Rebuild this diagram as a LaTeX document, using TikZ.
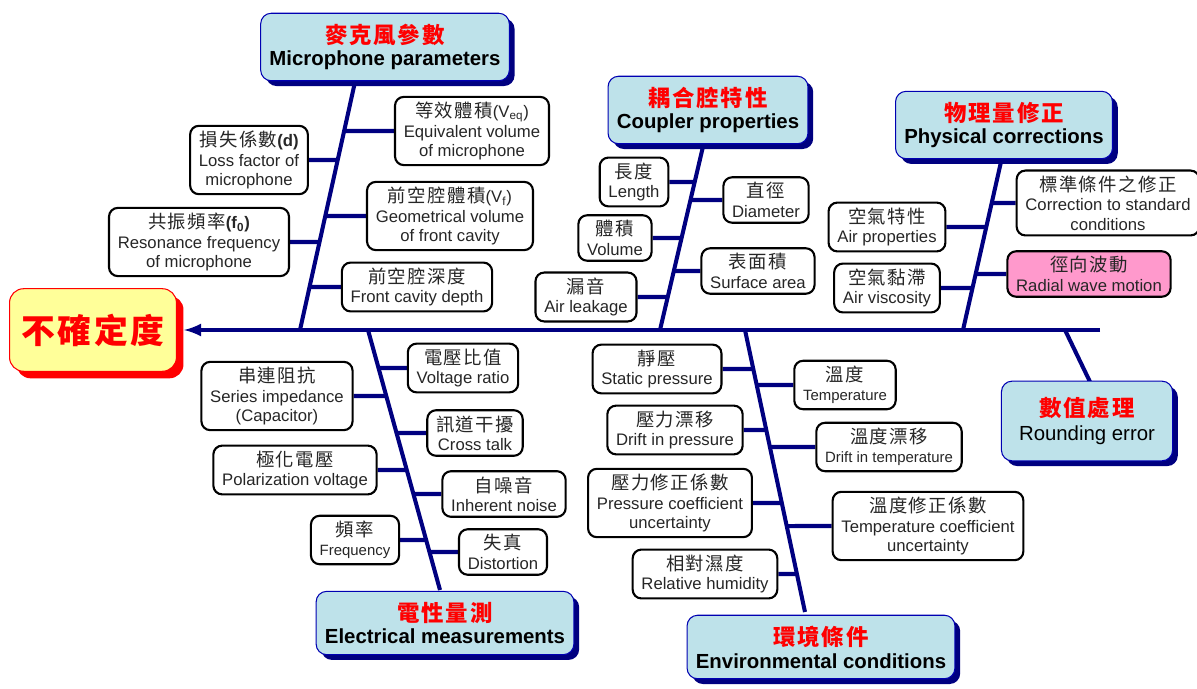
\documentclass[tikz,border=0pt]{standalone}
\usepackage{fontspec}
\setmainfont{Liberation Sans}
\newfontfamily\cjk[Scale=1.1,LetterSpace=8]{Noto Sans CJK TC}
\usetikzlibrary{shadows,backgrounds}
\definecolor{navy}{RGB}{0,0,128}
\definecolor{paleblue}{RGB}{190,226,234}
\definecolor{paleyellow}{RGB}{255,255,153}
\definecolor{pinkbox}{RGB}{255,153,204}

\begin{document}
\begin{tikzpicture}[x=0.02cm,y=-0.02cm,
  bone/.style={navy,line width=2.3pt},
  item/.style={draw=black,line width=1.2pt,fill=white,rounded corners=5pt,align=center,
    text=black!85,font=\fontsize{9.5}{11}\selectfont,inner xsep=5pt,inner ysep=3pt},
  cause/.style={draw=blue!70!black,line width=0.6pt,fill=paleblue,rounded corners=6pt,align=center,
    font=\fontsize{11.6}{13}\selectfont\bfseries,inner xsep=5pt,inner ysep=6pt,
    drop shadow={shadow xshift=3pt,shadow yshift=-3pt,fill=navy,opacity=1}},
  effect/.style={draw=red,line width=0.6pt,fill=paleyellow,rounded corners=8pt,text=red,
    font=\fontsize{17.5}{20}\selectfont\bfseries,minimum width=95pt,minimum height=47pt,
    drop shadow={shadow xshift=4pt,shadow yshift=-4pt,fill=red,opacity=1}}]
  \useasboundingbox (0,0) rectangle (1197,689);

  \node [effect] (head) at (93,330) {\cjk 不確定度};

  \node [cause] (mp) at (385,47) {\textcolor{red}{\cjk 麥克風參數}\\Microphone parameters};
  \node [cause] (cp) at (708,110) {\textcolor{red}{\cjk 耦合腔特性}\\Coupler properties};
  \node [cause] (pc) at (1004,125) {\textcolor{red}{\cjk 物理量修正}\\Physical corrections};
  \node [cause,font=\fontsize{11.6}{14}\selectfont,inner xsep=10pt,inner ysep=9pt] (re) at (1087,421) {\textcolor{red}{\bfseries\cjk 數值處理}\\Rounding error};
  \node [cause] (em) at (445,623) {\textcolor{red}{\cjk 電性量測}\\Electrical measurements};
  \node [cause] (ec) at (821,647) {\textcolor{red}{\cjk 環境條件}\\Environmental conditions};

  \node [item] (loss) at (249,160) {{\cjk 損失係數}{\bfseries(d)}\\Loss factor of\\microphone};
  \node [item] (reson) at (199,242) {{\cjk 共振頻率}{\bfseries(f\textsubscript{0})}\\Resonance frequency\\of microphone};
  \node [item] (equiv) at (472,131) {{\cjk 等效體積}(V\textsubscript{eq})\\Equivalent volume\\of microphone};
  \node [item] (geom) at (450,216) {{\cjk 前空腔體積}(V\textsubscript{f})\\Geometrical volume\\of front cavity};
  \node [item] (depth) at (417,287) {{\cjk 前空腔深度}\\Front cavity depth};

  \node [item] (len) at (634,182) {{\cjk 長度}\\Length};
  \node [item] (vol) at (615,238) {{\cjk 體積}\\Volume};
  \node [item] (leak) at (586,297) {{\cjk 漏音}\\Air leakage};
  \node [item] (dia) at (766,200) {{\cjk 直徑}\\Diameter};
  \node [item] (surf) at (758,271) {{\cjk 表面積}\\Surface area};

  \node [item] (airp) at (887,227) {{\cjk 空氣特性}\\Air properties};
  \node [item] (airv) at (887,288) {{\cjk 空氣黏滯}\\Air viscosity};
  \node [item] (std) at (1108,203) {{\cjk 標準條件之修正}\\Correction to standard\\conditions};
  \node [item,fill=pinkbox] (radial) at (1089,274) {{\cjk 徑向波動}\\Radial wave motion};

  \node [item] (ser) at (277,396) {{\cjk 串連阻抗}\\Series impedance\\(Capacitor)};
  \node [item] (pol) at (295,470) {{\cjk 極化電壓}\\Polarization voltage};
  \node [item] (freq) at (355,540) {{\cjk 頻率}\\{\fontsize{8.5}{10}\selectfont Frequency}};
  \node [item] (vr) at (463,368) {{\cjk 電壓比值}\\Voltage ratio};
  \node [item] (ct) at (475,433) {{\cjk 訊道干擾}\\Cross talk};
  \node [item] (noise) at (504,494) {{\cjk 自噪音}\\Inherent noise};
  \node [item] (dist) at (503,552) {{\cjk 失真}\\Distortion};

  \node [item] (stat) at (657,369) {{\cjk 靜壓}\\Static pressure};
  \node [item] (dp) at (675,430) {{\cjk 壓力漂移}\\Drift in pressure};
  \node [item] (pcu) at (670,503) {{\cjk 壓力修正係數}\\Pressure coefficient\\uncertainty};
  \node [item] (rh) at (705,574) {{\cjk 相對濕度}\\Relative humidity};
  \node [item] (temp) at (845,385) {{\cjk 溫度}\\{\fontsize{8.5}{10}\selectfont Temperature}};
  \node [item] (dt) at (889,447) {{\cjk 溫度漂移}\\{\fontsize{8.5}{10}\selectfont Drift in temperature}};
  \node [item] (tcu) at (928,526) {{\cjk 溫度修正係數}\\Temperature coefficient\\uncertainty};

  \coordinate (tail) at (1100,330);
  \coordinate (mtop) at (355,82);  \coordinate (mbot) at (300,330);
  \coordinate (ctop) at (705,138); \coordinate (cbot) at (660,330);
  \coordinate (ptop) at (1003,153); \coordinate (pbot) at (963,330);
  \coordinate (etop) at (368,330); \coordinate (ebot) at (440,590);
  \coordinate (ntop) at (745,330); \coordinate (nbot) at (805,612);
  \coordinate (rtop) at (1065,330); \coordinate (rbot) at (1092,386);

  \begin{scope}[on background layer]
  \draw [bone,-latex,shorten >=4pt] (tail) -- (head.east);
  \draw [bone] (mbot) -- (mtop);
  \draw [bone] (cbot) -- (ctop);
  \draw [bone] (pbot) -- (ptop);
  \draw [bone] (etop) -- (ebot);
  \draw [bone] (ntop) -- (nbot);
  \draw [bone] (rtop) -- (rbot);

  \draw [bone] (loss.east) -- (intersection of loss.east--loss.west and mtop--mbot);
  \draw [bone] (reson.east) -- (intersection of reson.east--reson.west and mtop--mbot);
  \draw [bone] (equiv.west) -- (intersection of equiv.east--equiv.west and mtop--mbot);
  \draw [bone] (geom.west) -- (intersection of geom.east--geom.west and mtop--mbot);
  \draw [bone] (depth.west) -- (intersection of depth.east--depth.west and mtop--mbot);

  \draw [bone] (len.east) -- (intersection of len.east--len.west and ctop--cbot);
  \draw [bone] (vol.east) -- (intersection of vol.east--vol.west and ctop--cbot);
  \draw [bone] (leak.east) -- (intersection of leak.east--leak.west and ctop--cbot);
  \draw [bone] (dia.west) -- (intersection of dia.east--dia.west and ctop--cbot);
  \draw [bone] (surf.west) -- (intersection of surf.east--surf.west and ctop--cbot);

  \draw [bone] (airp.east) -- (intersection of airp.east--airp.west and ptop--pbot);
  \draw [bone] (airv.east) -- (intersection of airv.east--airv.west and ptop--pbot);
  \draw [bone] (std.west) -- (intersection of std.east--std.west and ptop--pbot);
  \draw [bone] (radial.west) -- (intersection of radial.east--radial.west and ptop--pbot);

  \draw [bone] (ser.east) -- (intersection of ser.east--ser.west and etop--ebot);
  \draw [bone] (pol.east) -- (intersection of pol.east--pol.west and etop--ebot);
  \draw [bone] (freq.east) -- (intersection of freq.east--freq.west and etop--ebot);
  \draw [bone] (vr.west) -- (intersection of vr.east--vr.west and etop--ebot);
  \draw [bone] (ct.west) -- (intersection of ct.east--ct.west and etop--ebot);
  \draw [bone] (noise.west) -- (intersection of noise.east--noise.west and etop--ebot);
  \draw [bone] (dist.west) -- (intersection of dist.east--dist.west and etop--ebot);

  \draw [bone] (stat.east) -- (intersection of stat.east--stat.west and ntop--nbot);
  \draw [bone] (dp.east) -- (intersection of dp.east--dp.west and ntop--nbot);
  \draw [bone] (pcu.east) -- (intersection of pcu.east--pcu.west and ntop--nbot);
  \draw [bone] (rh.east) -- (intersection of rh.east--rh.west and ntop--nbot);
  \draw [bone] (temp.west) -- (intersection of temp.east--temp.west and ntop--nbot);
  \draw [bone] (dt.west) -- (intersection of dt.east--dt.west and ntop--nbot);
  \draw [bone] (tcu.west) -- (intersection of tcu.east--tcu.west and ntop--nbot);
  \end{scope}
\end{tikzpicture}
\end{document}
